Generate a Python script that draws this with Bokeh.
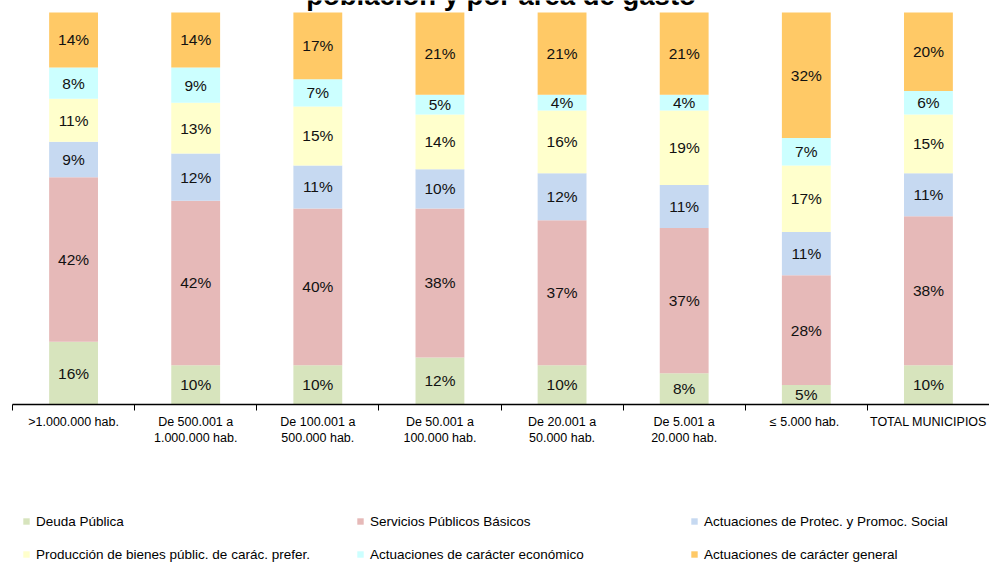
import numpy as np
from bokeh.plotting import figure
from bokeh.layouts import column
from bokeh.models import Range1d, FixedTicker, LinearAxis, Legend, Label, ColumnDataSource
from bokeh.core.properties import value
from bokeh.embed import file_html
from bokeh.resources import INLINE

categories = [">1.000.000 hab.", "De 500.001 a\n1.000.000 hab.", "De 100.001 a\n500.000 hab.",
              "De 50.001 a\n100.000 hab.", "De 20.001 a\n50.000 hab.", "De 5.001 a\n20.000 hab.",
              "\u2264 5.000  hab.", "TOTAL MUNICIPIOS"]
series_names = ["Deuda P\u00fablica", "Servicios P\u00fablicos B\u00e1sicos",
                "Actuaciones de Protec. y Promoc. Social",
                "Producci\u00f3n de bienes p\u00fablic. de car\u00e1c. prefer.",
                "Actuaciones de car\u00e1cter econ\u00f3mico", "Actuaciones de car\u00e1cter general"]
deuda = [16, 10, 10, 12, 10, 8, 5, 10]
servicios = [42, 42, 40, 38, 37, 37, 28, 38]
protec = [9, 12, 11, 10, 12, 11, 11, 11]
produccion = [11, 13, 15, 14, 16, 19, 17, 15]
economico = [8, 9, 7, 5, 4, 4, 7, 6]
general = [14, 14, 17, 21, 21, 21, 32, 20]
colors = ["#D7E4BD", "#E6B9B8", "#C6D9F1", "#FFFFCC", "#CCFFFF", "#FFC966"]
title_text = "poblaci\u00f3n y por \u00e1rea de gasto"

n = len(categories)
xc = np.arange(n) + 0.5
keys = ["s0", "s1", "s2", "s3", "s4", "s5"]
data = dict(x=xc)
for k, s in zip(keys, [deuda, servicios, protec, produccion, economico, general]):
    data[k] = s
src = ColumnDataSource(data)

H_TOP = 454
p = figure(width=989, height=H_TOP, output_backend="svg", toolbar_location=None,
           x_range=Range1d(0, n), y_range=Range1d(0, 100 + 12 / 3.92),
           x_axis_location=None, y_axis_location=None,
           min_border_left=12, min_border_right=0, min_border_top=0, min_border_bottom=50)
p.outline_line_color = None
p.xgrid.visible = False
p.ygrid.visible = False
p.background_fill_color = "white"
p.border_fill_color = "white"

rs = p.vbar_stack(keys, x="x", width=0.4, source=src, color=colors, line_color=None)

# bar labels
mids_x, mids_y, txt = [], [], []
arrs = np.array([deuda, servicios, protec, produccion, economico, general], dtype=float)
cum = np.cumsum(arrs, axis=0)
for j in range(arrs.shape[0]):
    for i in range(n):
        mids_x.append(xc[i])
        mids_y.append(cum[j, i] - arrs[j, i] / 2)
        txt.append(f"{int(arrs[j, i])}%")
p.text(x=mids_x, y=mids_y, text=txt, text_align="center", text_baseline="middle",
       text_font=value("Liberation Sans"), text_font_size="15.5px", text_color="#111111")

# axis
ax = LinearAxis(ticker=FixedTicker(ticks=list(xc), minor_ticks=list(range(n + 1))))
ax.major_label_overrides = {float(x): c for x, c in zip(xc, categories)}
ax.major_tick_out = 0
ax.major_tick_in = 0
ax.minor_tick_out = 6
ax.minor_tick_in = 0
ax.minor_tick_line_color = "#000000"
ax.axis_line_color = "#000000"
ax.axis_line_width = 1.5
ax.major_label_standoff = 4
ax.major_label_text_font = "Liberation Sans"
ax.major_label_text_font_size = "12.5px"
ax.major_label_text_color = "#000000"
p.add_layout(ax, "below")

# title (cut at top, as in the reference)
p.add_layout(Label(x=n / 2, y=100 + 17.5 / 3.92, text=title_text, text_align="center",
                   text_baseline="alphabetic", text_font="Liberation Sans",
                   text_font_style="bold", text_font_size="27.5px", text_color="#000000"))

# legend figure
H_LEG = 563 - H_TOP
q = figure(width=989, height=H_LEG, output_backend="svg", toolbar_location=None,
           x_range=Range1d(100, 101), y_range=Range1d(100, 101),
           x_axis_location=None, y_axis_location=None,
           min_border_left=0, min_border_right=0, min_border_top=0, min_border_bottom=0)
q.outline_line_color = None
q.xgrid.visible = False
q.ygrid.visible = False
rq = q.vbar_stack(keys, x="x", width=0.4, source=src, color=colors, line_color=None)

legend = Legend(items=[(nm, [r]) for nm, r in zip(series_names, rq)],
                location=(10, 0.5), orientation="horizontal", ncols=3,
                glyph_width=8, glyph_height=8, label_standoff=6, label_width=304,
                label_height=17, spacing=16, padding=0, margin=0,
                border_line_alpha=0, background_fill_alpha=0,
                label_text_font="Liberation Sans", label_text_font_size="13.5px",
                label_text_color="#000000")
q.add_layout(legend, "center")

open("out.html", "w").write(file_html(column(p, q, spacing=0), INLINE))
